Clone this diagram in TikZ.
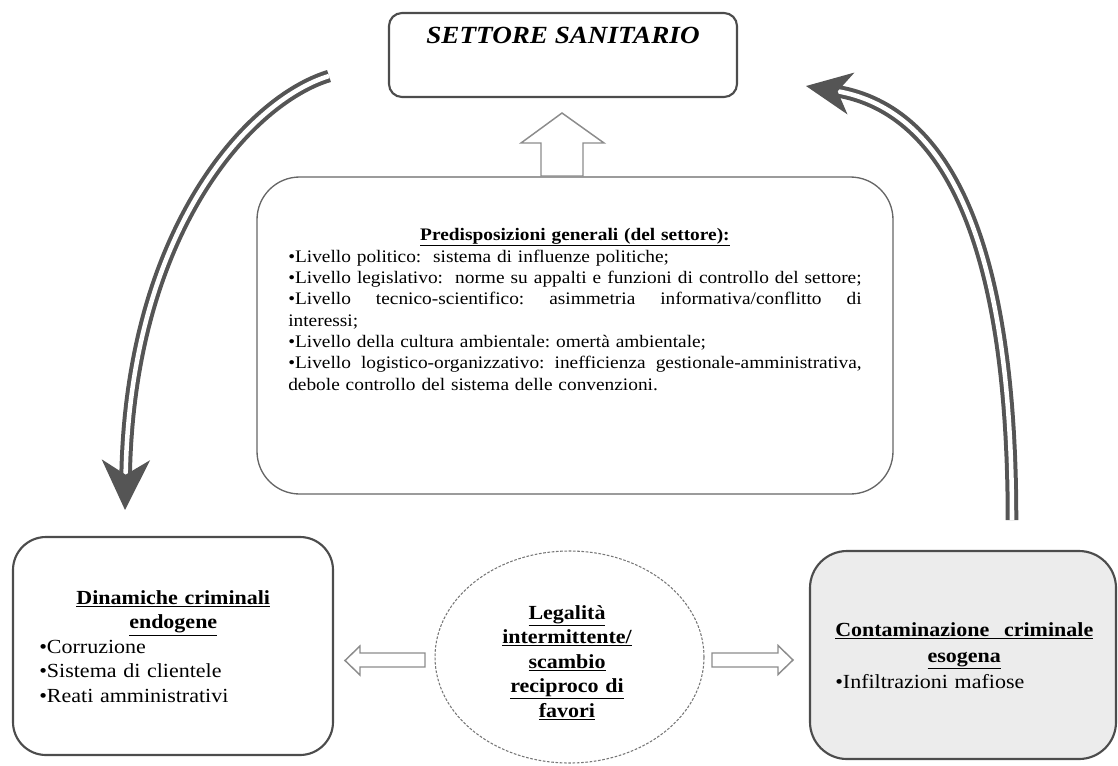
\documentclass[tikz,border=0pt]{standalone}
\usepackage{fontspec}
\setmainfont{Liberation Serif}[FakeStretch=1.1]
\usetikzlibrary{arrows.meta,shapes.geometric}
\definecolor{boxline}{HTML}{4C4C4C}
\definecolor{midline}{HTML}{666666}
\definecolor{arrowgray}{HTML}{555555}
\definecolor{hollowgray}{HTML}{8C8C8C}
\definecolor{ellgray}{HTML}{777777}
\definecolor{rfill}{HTML}{ECECEC}
\newcommand\jline[2]{\leavevmode\hbox to #1{\spaceskip=0.275em plus 1fil minus 0.06em\relax #2}}
\begin{document}
\begin{tikzpicture}[x=0.75pt,y=-0.75pt,
  roundbox/.style={draw=boxline,line width=1.6pt},
  hollow/.style={draw=hollowgray,line width=1.1pt,fill=white,line join=miter},
  bigarrow/.style={draw=arrowgray,double=white,line width=3pt,double distance=3.4pt},
  txt/.style={inner sep=0pt,text=black}]
\useasboundingbox (0,0) rectangle (1118,765);
\frenchspacing

% boxes
\node[roundbox,rounded corners=9.75pt,minimum width=261pt,minimum height=63pt] (settore) at (563,55) {};
\node[txt,anchor=base,font={\fontsize{18.5}{22}\selectfont\bfseries\itshape}] (settoreT) at (563,43) {SETTORE SANITARIO};

\node[draw=midline,line width=1pt,rounded corners=32pt,minimum width=477pt,minimum height=237.75pt] (pred) at (575,335.5) {};
\node[txt,anchor=base west,text width=430pt,align=left,font={\fontsize{13.2}{16}\selectfont\frenchspacing}] (predT) at (288,240) {%
\makebox[430pt][c]{\bfseries\underline{Predisposizioni generali (del settore):}}\\[0.5pt]
•Livello politico:\ \ sistema di influenze politiche;\\
\jline{430pt}{•Livello legislativo:\ \ norme su appalti e funzioni di controllo del settore;}\\
\jline{430pt}{•Livello tecnico-scientifico: asimmetria informativa/conflitto di}\\
interessi;\\
•Livello della cultura ambientale: omertà ambientale;\\
\jline{430pt}{•Livello logistico-organizzativo: inefficienza gestionale-amministrativa,}\\
debole controllo del sistema delle convenzioni.};

\node[roundbox,rounded corners=24.75pt,minimum width=240pt,minimum height=163.5pt] (endo) at (173,646) {};
\node[txt,anchor=base west,text width=201pt,align=left,font={\fontsize{15}{18.4}\selectfont\frenchspacing}] (endoT) at (39,604) {%
\makebox[201pt][c]{\bfseries\underline{Dinamiche criminali}}\\
\makebox[201pt][c]{\bfseries\underline{endogene}}\\
•Corruzione\\
•Sistema di clientele\\
•Reati amministrativi};

\node[roundbox,fill=rfill,rounded corners=27.75pt,minimum width=229.5pt,minimum height=156pt] (eso) at (963,655) {};
\node[txt,anchor=base west,text width=193.5pt,align=left,font={\fontsize{15}{19.5}\selectfont\frenchspacing}] (esoT) at (835,636) {%
\underline{\jline{193.5pt}{\bfseries Contaminazione criminale}}\\
\makebox[193.5pt][c]{\bfseries\underline{esogena}}\\
•Infiltrazioni mafiose};

\node[ellipse,draw=ellgray,line width=0.8pt,dash pattern=on 2pt off 1.2pt,minimum width=201.75pt,minimum height=159pt] (leg) at (569.5,657) {};
\node[txt,anchor=base,text width=170pt,align=center,font={\fontsize{15}{18.4}\selectfont\bfseries}] (legT) at (567,619) {%
\underline{Legalità}\\
\underline{intermittente/}\\
\underline{scambio}\\
\underline{reciproco\ di}\\
\underline{favori}};

% hollow arrows
\draw[hollow] (541,176) -- (541,143) -- (521,143) -- (562,113) -- (604,143) -- (583,143) -- (583,176) -- cycle;
\draw[hollow] (425,653) -- (360,653) -- (360,646) -- (345,660.5) -- (360,675) -- (360,667) -- (425,667) -- cycle;
\draw[hollow] (712,653) -- (778,653) -- (778,645.5) -- (793,660) -- (778,674.5) -- (778,667) -- (712,667) -- cycle;

% big curved arrows
\coordinate (Lstart) at (329,76);
\coordinate (Lend) at (125,510);
\draw[bigarrow,-{Stealth[length=37.5pt,width=36pt,inset=11pt,color=arrowgray,fill=arrowgray]}]
  (Lstart) .. controls (250,100) and (130,230) .. (Lend);
\coordinate (Rstart) at (1012,520);
\coordinate (Rend) at (806,86);
\draw[bigarrow,-{Stealth[length=34pt,width=31.5pt,inset=10pt,color=arrowgray,fill=arrowgray]}]
  (Rstart) .. controls (1012,250) and (950,110) .. (Rend);
\end{tikzpicture}
\end{document}
